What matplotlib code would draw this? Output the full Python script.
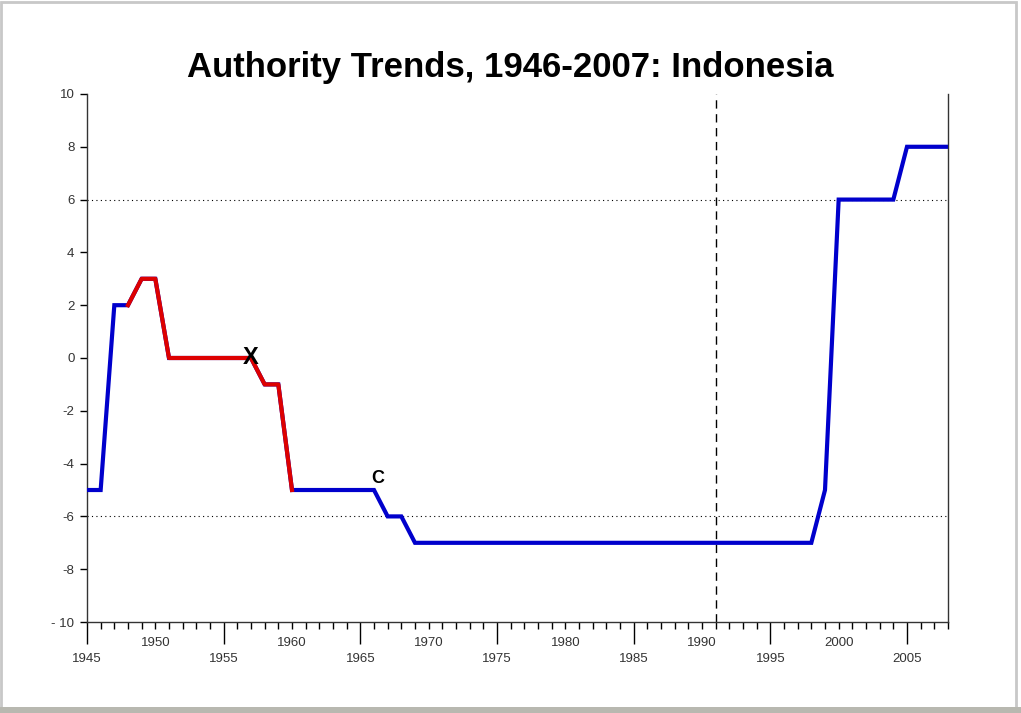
import matplotlib.pyplot as plt
import matplotlib.ticker as ticker
from matplotlib.patches import Rectangle

plt.rcParams['font.family'] = ['Liberation Sans', 'DejaVu Sans']

# yearly polity scores
years = [1945, 1946, 1947, 1948, 1949, 1950, 1951, 1952, 1953, 1954, 1955, 1956,
         1957, 1958, 1959, 1960, 1961, 1962, 1963, 1964, 1965, 1966, 1967, 1968,
         1969, 1970, 1975, 1980, 1985, 1990, 1995, 1998, 1999, 2000, 2001, 2002,
         2003, 2004, 2005, 2006, 2007, 2008]
scores = [-5, -5, 2, 2, 3, 3, 0, 0, 0, 0, 0, 0,
          0, -1, -1, -5, -5, -5, -5, -5, -5, -5, -6, -6,
          -7, -7, -7, -7, -7, -7, -7, -7, -5, 6, 6, 6,
          6, 6, 8, 8, 8, 8]

# transitional period drawn in red
trans_start, trans_end = 1948, 1960
events = [("X", 1957, 0.0, 17), ("C", 1966.3, -4.55, 13)]
marker_year = 1991
y_ticks = [10, 8, 6, 4, 2, 0, -2, -4, -6, -8, -10]
y_labels = ["10", "8", "6", "4", "2", "0", "-2", "-4", "-6", "-8", "- 10"]

fig = plt.figure(figsize=(10.21, 7.13), dpi=100)
fig.patches.append(Rectangle((0.001, 0.004), 0.994, 0.993, transform=fig.transFigure,
                             fill=False, edgecolor='#c8c8c8', linewidth=2))
fig.patches.append(Rectangle((0, 0), 1, 0.008, transform=fig.transFigure,
                             facecolor='#b8b8b0', edgecolor='none'))
ax = fig.add_axes([0.0852, 0.1276, 0.8433, 0.7406])

ax.plot(years, scores, color='#0000cc', lw=3, solid_joinstyle='miter', zorder=3)
tx = [y for y in years if trans_start <= y <= trans_end]
ty = [s for y, s in zip(years, scores) if trans_start <= y <= trans_end]
ax.plot(tx, ty, color='#dd0000', lw=3, zorder=4)

ax.axhline(6, color='black', lw=0.8, linestyle=(0, (1, 3)), zorder=1)
ax.axhline(-6, color='black', lw=0.8, linestyle=(0, (1, 3)), zorder=1)
ax.axvline(marker_year, color='black', lw=1, linestyle=(0, (6, 4)), zorder=1)

for label, ex, ey, fs in events:
    ax.text(ex, ey, label, ha='center', va='center', fontsize=fs,
            fontweight='bold', color='black', zorder=5)

ax.set_xlim(1945, 2008)
ax.set_ylim(-10, 10)
ax.set_yticks(y_ticks)
ax.set_yticklabels(y_labels)
ax.tick_params(axis='y', direction='out', length=5, width=1, labelsize=9.5, pad=4,
               labelcolor='#333333')

ax.xaxis.set_major_locator(ticker.FixedLocator(range(1945, 2006, 10)))
ax.xaxis.set_minor_locator(ticker.FixedLocator(range(1945, 2009, 1)))
ax.xaxis.set_minor_formatter(ticker.FuncFormatter(
    lambda v, p: str(int(round(v))) if int(round(v)) % 10 == 0 else ""))
ax.tick_params(axis='x', which='major', direction='out', length=16, width=1,
               labelsize=9.5, pad=6, labelcolor='#333333')
ax.tick_params(axis='x', which='minor', direction='out', length=5, width=1,
               labelsize=9.5, pad=6, labelcolor='#333333')

ax.spines['top'].set_visible(False)
for s in ['left', 'right', 'bottom']:
    ax.spines[s].set_linewidth(1)
    ax.spines[s].set_color('#333333')

fig.suptitle('Authority Trends, 1946-2007: Indonesia', fontsize=25,
             fontweight='bold', y=0.928)

fig.savefig('out.png', dpi=100)
